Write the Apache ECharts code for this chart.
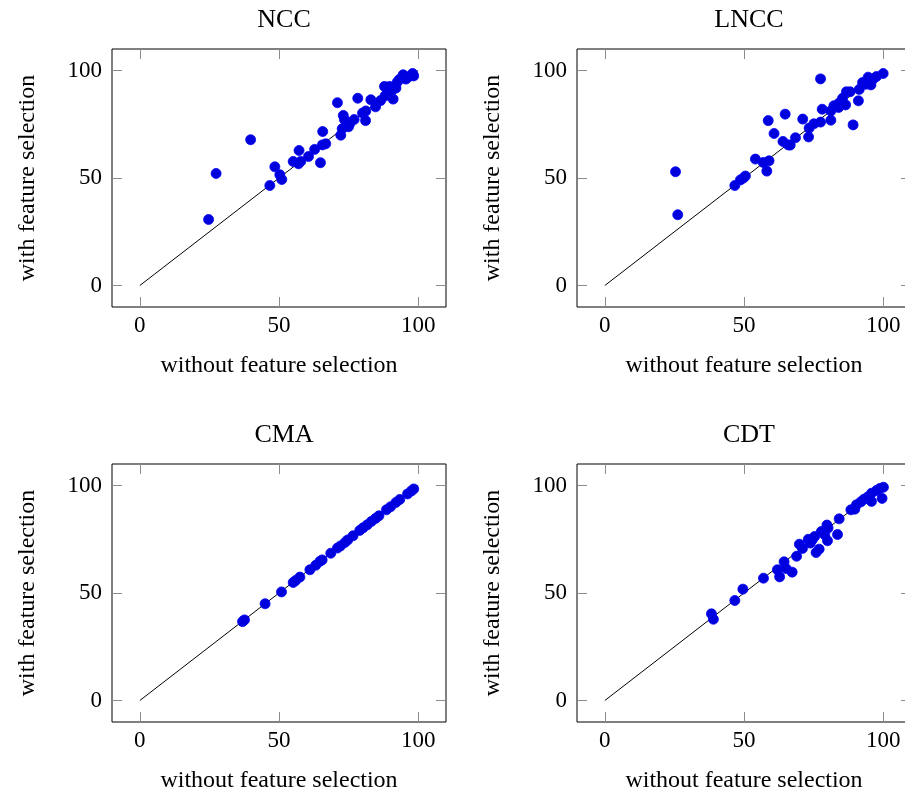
<!DOCTYPE html>
<html><head><meta charset="utf-8">
<script src="https://cdn.jsdelivr.net/npm/echarts@6/dist/echarts.min.js"></script>
<style>html,body{margin:0;padding:0;background:#fff}#c{width:905px;height:797px}</style>
</head><body><div id="c"></div>
<script>
const titles = ['NCC','LNCC','CMA','CDT'];
const xName = 'without feature selection';
const yName = 'with feature selection';
const tickValues = [0, 50, 100];
const diagonal = [[0,0],[100,100]];

const nccX = [24.7,27.4,39.8,46.7,48.5,50.3,51.0,55.1,57.0,57.2,57.8,60.6,62.8,64.9,65.7,65.6,66.8,71.0,72.2,72.7,73.1,73.5,75.0,75.4,77.0,78.3,80.0,81.2,81.1,83.0,84.7,86.5,88.1,87.9,89.8,91.0,90.4,91.7,92.0,92.5,93.2,94.6,95.6,96.6,98.0,98.4];
const nccY = [30.7,52.1,67.8,46.5,55.2,51.5,49.3,57.7,56.6,62.8,57.7,60.0,63.3,57.1,71.6,65.4,65.9,85.0,69.9,72.9,79.1,77.2,73.8,75.2,77.2,87.1,80.2,81.2,76.7,86.4,83.1,86.0,88.2,92.6,92.6,86.7,90.5,92.6,91.8,94.6,95.8,98.0,96.0,97.1,98.6,97.5];

const lnccX = [25.4,26.2,46.7,48.7,49.7,50.5,54.1,56.9,59.0,58.2,58.7,60.8,64.0,64.8,65.9,66.6,68.5,71.1,73.2,73.4,75.1,77.5,77.5,78.1,81.2,81.2,82.3,84.0,84.1,85.4,86.5,86.8,88.1,89.2,91.1,91.4,92.6,93.7,94.6,95.6,96.4,97.6,100];
const lnccY = [52.9,32.9,46.5,49.1,49.9,50.9,58.8,57.2,58.0,53.2,76.7,70.7,67.0,79.7,65.4,65.3,68.7,77.4,69.1,73.2,75.2,76.0,96.1,82.0,76.9,81.2,83.6,82.8,84.8,87.1,84.0,90.1,90.1,74.7,85.9,91.2,94.4,93.6,96.9,93.3,96.0,97.2,98.6];

const cmaX = [36.9,37.6,45.0,50.9,55.1,56.0,57.5,61.1,63.2,64.7,65.5,68.6,71.0,72.1,73.7,74.7,76.6,79.0,80.2,81.7,83.2,84.7,85.9,88.6,90.1,92.0,93.4,96.2,97.6,98.4];
const cmaY = [36.7,37.5,45.0,50.5,54.9,55.8,57.4,60.8,62.9,64.7,65.4,68.5,70.9,71.9,73.5,74.7,76.6,79.1,80.3,81.7,83.3,84.7,85.9,88.7,90.1,92.1,93.5,96.1,97.5,98.4];

const cdtX = [38.3,39.0,46.7,49.6,57.0,62.0,62.8,64.4,65.1,67.3,68.9,69.9,71.0,73.1,73.8,74.5,75.9,77.0,75.4,77.8,79.0,79.8,80.2,80.0,83.6,84.2,88.4,89.8,90.4,92.0,93.1,94.4,95.8,95.8,97.6,98.8,99.6,100.1];
const cdtY = [40.3,37.8,46.5,51.8,56.9,60.8,57.5,64.5,61.4,59.7,67.1,72.7,70.7,75.0,73.2,74.7,68.8,70.4,76.3,78.6,77.1,81.6,80.2,74.3,77.2,84.5,88.7,89.0,91.0,92.4,93.6,94.6,92.6,96.4,97.7,98.6,94.0,99.2];

const seriesX = [nccX, lnccX, cmaX, cdtX];
const seriesY = [nccY, lnccY, cmaY, cdtY];

const FONT = 'Liberation Serif';
const gridPos = [
  {left:112, top:49},
  {left:577, top:49},
  {left:112, top:464},
  {left:577, top:464}
];
const GW = 334, GH = 258;

const grids = [], xAxes = [], yAxes = [], series = [], titleOpts = [];
gridPos.forEach((g, i) => {
  grids.push({left:g.left, top:g.top, width:GW, height:GH, show:true, borderColor:'#000', borderWidth:1,
    backgroundColor:'transparent', containLabel:false, outerBoundsMode:'none'});
  titleOpts.push({text:titles[i], left:g.left + GW/2, top:g.top - 47, textAlign:'center',
    textStyle:{fontFamily:FONT, fontSize:26, fontWeight:'normal', color:'#000'}});
  const tickCommon = {show:true, inside:true, length:10, customValues:tickValues, lineStyle:{color:'#8c8c8c', width:1}};
  const base = {type:'value', min:-10, max:110, gridIndex:i, splitLine:{show:false}, axisLine:{show:false, onZero:false}};
  xAxes.push(Object.assign({}, base, {position:'bottom',
    axisTick:tickCommon,
    axisLabel:{customValues:tickValues, margin:7, fontFamily:FONT, fontSize:23, color:'#000'},
    name:xName, nameLocation:'middle', nameGap:47,
    nameTextStyle:{fontFamily:FONT, fontSize:24, color:'#000'}}));
  xAxes.push(Object.assign({}, base, {position:'top', axisTick:tickCommon, axisLabel:{show:false}}));
  yAxes.push(Object.assign({}, base, {position:'left',
    axisTick:tickCommon,
    axisLabel:{customValues:tickValues, margin:10, fontFamily:FONT, fontSize:23, color:'#000'},
    name:yName, nameLocation:'middle', nameGap:72,
    nameTextStyle:{fontFamily:FONT, fontSize:24, color:'#000'}}));
  yAxes.push(Object.assign({}, base, {position:'right', axisTick:tickCommon, axisLabel:{show:false}}));
  series.push({type:'line', xAxisIndex:2*i, yAxisIndex:2*i, data:diagonal, symbol:'none',
    lineStyle:{color:'#000', width:1}, z:1, silent:true, animation:false});
  series.push({type:'scatter', xAxisIndex:2*i, yAxisIndex:2*i,
    data:seriesX[i].map((x, k) => [x, seriesY[i][k]]),
    symbol:'circle', symbolSize:10,
    itemStyle:{color:'#0000dc', borderColor:'#0000f5', borderWidth:0.8, opacity:1}, z:2, animation:false});
});

const chart = echarts.init(document.getElementById('c'), null, {renderer:'canvas'});
chart.setOption({
  backgroundColor:'#fff',
  animation:false,
  title:titleOpts,
  grid:grids,
  xAxis:xAxes,
  yAxis:yAxes,
  series:series
});
</script>
</body></html>
